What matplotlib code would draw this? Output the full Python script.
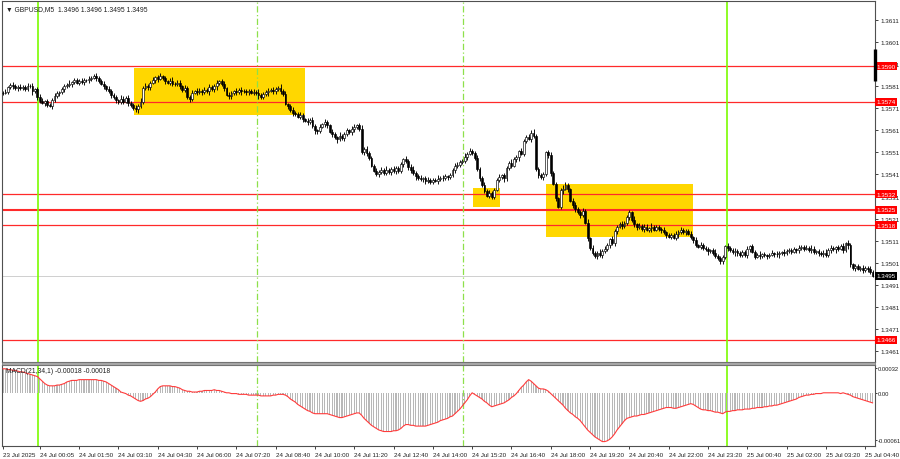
import numpy as np
import matplotlib
matplotlib.use('Agg')
import matplotlib.pyplot as plt
from matplotlib.patches import Rectangle
from matplotlib.transforms import blended_transform_factory

plt.rcParams['font.family'] = ['Liberation Sans', 'DejaVu Sans']

BASE = 1.34
PIP = 0.0001

# 5-minute closes, in pips above 1.3400
closes_pips = [
    178.0, 178.5, 180.5, 181.5, 181.0, 180.2, 180.8, 180.0, 180.6, 179.8, 180.9, 181.3, 178.6, 179.5, 176.0,
    174.5, 173.6, 174.2, 172.4, 172.0, 174.8, 176.5, 177.8, 178.2,
    179.5, 181.0, 181.5, 182.2, 182.8, 183.6, 182.6, 183.4, 182.9, 183.8, 183.6, 184.2, 184.8, 185.5, 184.6,
    183.4, 182.2, 181.0, 179.8, 178.6, 177.0, 176.0, 174.8, 173.9, 175.4, 174.0, 175.8, 173.2, 172.6, 171.2,
    170.6, 171.8, 174.0, 180.2,
    181.2, 180.4, 182.6, 183.8, 185.0, 184.4, 185.4, 184.6,
    183.2, 182.6, 183.5, 182.0, 181.8, 182.6, 181.0, 179.4, 180.2, 176.0, 175.4,
    178.0, 178.6, 178.2, 179.0, 178.4, 179.2, 178.6, 180.4,
    179.6, 181.2, 182.6, 183.4, 181.8, 180.0, 177.2, 176.4, 177.8, 178.6,
    178.4, 179.2, 178.6, 178.9, 178.2, 178.7, 178.0, 178.5, 177.9, 176.8, 176.2, 177.6, 178.2,
    178.8, 179.4, 178.6, 179.6, 180.2, 178.8, 177.6, 173.0, 171.8,
    170.2, 169.0, 168.4, 167.2, 167.8, 166.0, 165.4, 164.8, 165.6, 163.0, 161.0, 160.6, 162.6, 163.8, 164.6,
    163.2, 160.4, 159.2, 158.0, 157.0, 158.6, 157.4, 159.2, 161.0, 160.2, 161.8, 162.4, 163.2, 161.8, 151.0,
    152.6, 150.8, 148.4, 145.0, 142.6, 141.4, 142.0,
    143.2, 141.8, 143.0, 142.2, 143.6, 142.4, 143.8, 142.6, 145.6, 147.8,
    147.0, 144.4, 142.8, 141.6, 140.2, 139.6, 138.8, 139.4, 138.0, 138.6, 137.8, 138.4, 138.2,
    139.0, 139.6, 139.2, 140.2, 139.8, 140.6, 143.2, 144.6, 145.4, 146.6, 147.2, 149.0, 150.4, 151.6, 150.8,
    148.6, 143.4, 139.6, 136.4, 133.6, 131.2, 132.4, 131.0,
    134.0, 138.6, 139.8, 140.6, 139.2, 143.8, 146.2, 145.0, 147.8, 148.8, 151.6, 150.4, 156.2,
    158.0, 157.2, 160.0, 158.4, 143.6,
    140.6, 139.8, 141.2, 151.0, 149.6, 141.8, 136.6, 130.2, 126.4, 133.8, 134.6, 136.4, 134.2,
    129.0, 127.0, 125.4, 123.8, 122.6, 124.6, 119.0, 112.0,
    107.6, 105.2, 104.0, 105.6, 104.4, 106.4, 107.2, 108.8, 111.6, 110.0,
    115.2, 117.4, 118.4, 117.6, 119.2, 121.6, 123.8, 120.4,
    118.4, 117.0, 117.8, 116.2, 117.4, 115.8, 116.6, 117.4, 116.0, 117.0, 116.4, 115.6, 114.8, 113.4, 112.6,
    113.6, 112.4, 113.8, 115.0, 116.0, 114.8, 115.4, 114.2,
    112.6, 111.4, 108.8, 108.2, 109.0, 107.6, 107.0, 106.2, 106.8, 105.4, 104.2, 103.0, 101.6, 103.4, 108.4, 107.6,
    106.6, 105.8, 106.4, 105.2, 104.6, 105.8, 104.4, 107.2, 108.4, 106.0, 103.8, 104.6,
    104.2, 104.8, 104.4, 104.0, 104.6, 105.2, 104.8, 105.0, 105.4,
    105.8, 105.4, 106.2, 106.8, 106.0, 107.0, 106.6, 107.6, 108.0, 107.4, 107.8,
    106.8, 107.4, 105.8, 106.2, 105.4, 104.8, 105.6, 104.6, 106.8, 107.6, 107.2,
    108.0, 107.4, 108.6, 106.6, 110.0, 108.8, 100.2,
    98.6, 99.4, 98.2, 98.8, 97.8, 98.6, 98.0, 97.0, 95.0,
]

# wick lengths beyond the body, in 0.2 pip steps
wick_up = [
    4, 6, 3, 5, 8, 4, 3, 6, 5, 4, 7, 3, 5, 4, 6, 8, 5, 3, 6, 4,
    5, 7, 4, 3, 6, 5, 4, 8, 3, 5, 6, 4, 7, 5, 3, 6, 4, 5, 8, 6,
    4, 5, 3, 7, 6, 4, 5, 3, 8, 6, 4, 7, 5, 3, 6, 5, 9, 4, 6, 5,
    3, 6, 4, 5, 7, 4, 6, 3, 5, 8, 4, 5, 6, 3, 7, 4, 5, 6, 4, 8,
    5, 3, 6, 4, 7, 5, 4, 6, 3, 5, 8, 4, 6, 5, 3, 7, 4, 6, 5, 4,
    6, 4, 5, 3, 8, 6, 4, 5, 7, 3, 6, 4, 5, 8, 4, 6, 3, 5, 7, 4,
    4, 7, 5, 3, 6, 4, 8, 5, 4, 6, 3, 7, 5, 4, 6, 5, 3, 8, 4, 6,
    5, 4, 6, 8, 3, 5, 7, 4, 6, 5, 4, 3, 7, 5, 6, 4, 8, 5, 3, 6,
    4, 6, 5, 3, 7, 4, 6, 9, 5, 4, 6, 3, 5, 7, 4, 6, 5, 8, 4, 5,
    6, 3, 5, 4, 7, 6, 4, 5, 8, 3, 6, 5, 4, 7, 5, 3, 6, 4, 8, 5,
    4, 5, 7, 3, 6, 4, 5, 8, 6, 4, 3, 7, 5, 4, 6, 5, 9, 4, 3, 6,
    5, 4, 6, 7, 3, 5, 4, 6, 8, 5, 4, 3, 6, 7, 4, 5, 6, 4, 8, 3,
    6, 5, 4, 7, 3, 6, 5, 4, 8, 6, 3, 5, 7, 4, 6, 5, 3, 8, 4, 6,
    4, 6, 5, 3, 7, 4, 6, 5, 4, 8, 3, 6, 5, 4, 7, 5, 6, 3, 4, 5,
    5, 3, 6, 4, 7, 5, 4, 6, 3, 5, 8, 4, 6, 5, 3, 7, 4, 5, 6, 4,
    6, 4, 5, 7, 3, 6, 4, 5, 8, 4, 6, 3, 5, 7, 4, 6, 5, 3, 6, 4,
    4, 5, 6, 3, 7, 4, 5, 6, 4, 8, 5, 3, 6, 4, 5, 7, 4, 6, 5, 3,
    5, 4, 6, 3, 7, 5, 4, 6, 5, 3, 6, 4, 5, 7, 4,
]
wick_dn = [
    5, 3, 6, 4, 7, 5, 8, 3, 4, 6, 5, 4, 7, 3, 6, 5, 4, 8, 5, 3,
    6, 4, 5, 7, 3, 6, 4, 5, 8, 4, 3, 6, 5, 7, 4, 6, 5, 3, 6, 4,
    4, 7, 5, 3, 6, 4, 8, 5, 4, 6, 3, 7, 5, 4, 6, 9, 3, 5, 4, 6,
    5, 4, 6, 8, 3, 5, 7, 4, 6, 5, 4, 3, 7, 5, 6, 4, 8, 5, 3, 6,
    4, 6, 5, 3, 7, 4, 6, 9, 5, 4, 6, 3, 5, 7, 4, 6, 5, 8, 4, 5,
    6, 3, 5, 4, 7, 6, 4, 5, 8, 3, 6, 5, 4, 7, 5, 3, 6, 4, 8, 5,
    4, 5, 7, 3, 6, 4, 5, 8, 6, 4, 3, 7, 5, 4, 6, 5, 9, 4, 3, 6,
    5, 4, 6, 7, 3, 5, 4, 6, 8, 5, 4, 3, 6, 7, 4, 5, 6, 4, 8, 3,
    6, 5, 4, 7, 3, 6, 5, 4, 8, 6, 3, 5, 7, 4, 6, 5, 3, 8, 4, 6,
    4, 6, 5, 3, 7, 4, 6, 5, 4, 8, 3, 6, 5, 4, 7, 5, 6, 3, 4, 5,
    5, 3, 6, 4, 7, 5, 4, 6, 3, 5, 8, 4, 6, 5, 3, 7, 4, 5, 6, 4,
    6, 4, 5, 7, 3, 6, 4, 5, 8, 4, 6, 3, 5, 7, 4, 6, 5, 3, 6, 4,
    4, 5, 6, 3, 7, 4, 5, 6, 4, 8, 5, 3, 6, 4, 5, 7, 4, 6, 5, 3,
    4, 6, 3, 5, 8, 4, 3, 6, 5, 4, 7, 3, 5, 4, 6, 8, 5, 3, 6, 4,
    5, 7, 4, 3, 6, 5, 4, 8, 3, 5, 6, 4, 7, 5, 3, 6, 4, 5, 8, 6,
    4, 5, 3, 7, 6, 4, 5, 3, 8, 6, 4, 7, 5, 3, 6, 5, 9, 4, 6, 5,
    3, 6, 4, 5, 7, 4, 6, 3, 5, 8, 4, 5, 6, 3, 7, 4, 5, 6, 4, 8,
    5, 3, 6, 4, 7, 5, 4, 6, 3, 5, 8, 4, 6, 5, 3,
]

# MACD(21,34,1) main value per bar, in 1e-5
macd_e5 = [
    31, 31, 30, 30, 29, 29, 28, 27, 27, 26, 25, 24, 23, 22, 21,
    18, 15, 12, 10, 9, 9, 9, 10, 10, 11, 12, 14, 15, 16,
    16, 16, 17, 17, 17, 17, 17, 17, 17, 17, 16, 16, 15, 14,
    12, 10, 8, 6, 4, 1, 0, -1, -3, -4, -6, -8, -10, -11,
    -10, -8, -7, -5, -2, 1, 5, 8, 9, 9, 9, 9, 8, 8,
    7, 6, 4, 3, 2, 2, 1, 1, 1, 2, 2, 3, 3, 3, 3, 4, 3, 3,
    2, 1, 0, 0, -1, -1, -1, -2, -2, -2, -2, -3, -3, -3, -3,
    -3, -4, -4, -4, -4, -4, -3, -3, -2, -2, -2, -3, -5, -8,
    -10, -12, -15, -17, -19, -21, -23, -24, -26, -27,
    -27, -27, -27, -27, -27, -28, -29, -30, -31, -32, -32,
    -31, -30, -29, -28, -27, -26, -26,
    -29, -33, -36, -39, -42, -44, -46, -48, -49, -50, -50,
    -50, -50, -49, -49, -48, -46, -43, -41,
    -41, -42, -42, -43, -43, -43, -43, -43, -42, -41, -40, -39, -38, -36,
    -35, -34, -33, -31, -30, -27, -24, -21, -17, -13, -9, -4, 0,
    -2, -4, -6, -8, -11, -13, -16, -18, -17, -16, -15, -14,
    -13, -11, -9, -6, -4, -1, 3, 7, 10, 14, 17,
    15, 12, 9, 6, 5, 5, 4, 2, -1, -4,
    -7, -10, -13, -16, -20, -23, -26, -28, -31, -33,
    -36, -40, -44, -48, -51, -54, -57, -59, -61, -63,
    -63, -62, -60, -57, -53, -48, -44, -40, -36, -33,
    -32, -31, -30, -30, -29, -28, -28, -27,
    -26, -25, -24, -23, -22, -21, -20, -19, -19, -19, -20, -20,
    -19, -18, -17, -16, -15, -14, -15, -17, -19, -21, -22,
    -22, -23, -23, -24, -25, -25, -26, -27,
    -25, -24, -24, -23, -23, -22, -22,
    -22, -21, -21, -21, -20, -20, -19, -19,
    -19, -18, -18, -17, -17, -16, -16, -15,
    -14, -13, -12, -11, -10, -9, -8, -6,
    -5, -4, -3, -3, -2, -2, -1,
    -1, -1, 0, 0, 0, 0, 0, 0, 0, -1, 0, -1,
    -2, -3, -5, -6, -7, -8, -9, -10, -11, -12, -13,
]

time_labels = ['23 Jul 2025', '24 Jul 00:05', '24 Jul 01:50', '24 Jul 03:10', '24 Jul 04:30',
               '24 Jul 06:00', '24 Jul 07:20', '24 Jul 08:40', '24 Jul 10:00', '24 Jul 11:20',
               '24 Jul 12:40', '24 Jul 14:00', '24 Jul 15:20', '24 Jul 16:40', '24 Jul 18:00',
               '24 Jul 19:20', '24 Jul 20:40', '24 Jul 22:00', '24 Jul 23:20', '25 Jul 00:40',
               '25 Jul 02:00', '25 Jul 03:20', '25 Jul 04:40']
label_bars = [0] + [15 + 16 * k for k in range(len(time_labels) - 1)]

levels = [1.3590, 1.3574, 1.3532, 1.3525, 1.3518, 1.3466]
last_price = 1.3495

# (first bar, last bar, low price, high price)
zones = [(53.3, 123.0, 1.35680, 1.35893),
         (191.3, 202.4, 1.35264, 1.35347),
         (221.1, 281.0, 1.35127, 1.35367)]

day_marks = [14.3, 294.8]
session_marks = [103.4, 187.3]

# ---- build OHLC
c = BASE + np.array(closes_pips) * PIP
o = np.r_[c[0], c[:-1]]
hi = np.maximum(o, c) + np.array(wick_up) * 0.2 * PIP
lo = np.minimum(o, c) - np.array(wick_dn) * 0.2 * PIP
x = np.arange(len(c))

fig = plt.figure(figsize=(9, 4.6), dpi=100)
W, H = 900.0, 460.0
ax = fig.add_axes([2 / W, 97 / H, 873 / W, 361 / H])
axm = fig.add_axes([2 / W, 13 / H, 873 / W, 81 / H], sharex=ax)

fs = 4.5
txt = '#202020'
frame = '#505050'

for x0, x1, p0, p1 in zones:
    ax.add_patch(Rectangle((x0, p0), x1 - x0, p1 - p0, facecolor='#FFD700',
                           edgecolor='none', zorder=1))

for lvl in levels:
    ax.axhline(lvl, color='#FF2A2A', lw=1.5 if lvl == 1.3525 else 0.9, zorder=2)
ax.axhline(last_price, color='#C8C8C8', lw=0.6, zorder=2)

for a in (ax, axm):
    for m in day_marks:
        a.axvline(m, color='#7CFC00', lw=1.2, zorder=2)
    for m in session_marks:
        a.axvline(m, color='#8EE04A', lw=0.9, dashes=(5, 2, 1, 2), zorder=2)

# candles
ax.vlines(x, lo, hi, color='black', lw=0.65, zorder=3)
body = np.maximum(np.abs(c - o), 0.08 * PIP)
face = np.where(c > o, 'white', 'black')
ax.bar(x, body, bottom=np.minimum(o, c), width=0.75, color=face,
       edgecolor='black', lw=0.45, zorder=4)

ax.set_xlim(-0.4, 355.0)
ax.set_ylim(1.34560, 1.36196)

yt = np.round(1.3461 + 0.001 * np.arange(16), 4)
ax.yaxis.tick_right()
ax.set_yticks(yt)
ax.set_yticklabels([f'{v:.4f}' for v in yt])
ax.tick_params(axis='y', labelsize=fs, length=2.5, width=0.6, pad=1.5, colors=txt)
ax.tick_params(axis='x', bottom=False, labelbottom=False)

tr = blended_transform_factory(ax.transAxes, ax.transData)
for lvl in levels:
    ax.text(1.0015, lvl, f'{lvl:.4f}', transform=tr, fontsize=fs, color='white',
            ha='left', va='center', clip_on=False, zorder=10,
            bbox=dict(boxstyle='square,pad=0.25', fc='#FF0000', ec='none'))
ax.text(1.0015, last_price, f'{last_price:.4f}', transform=tr, fontsize=fs, color='white',
        ha='left', va='center', clip_on=False, zorder=10,
        bbox=dict(boxstyle='square,pad=0.25', fc='black', ec='none'))
ax.plot([1.0, 1.0], [1.35834, 1.35979], transform=tr, color='black', lw=2.4,
        solid_capstyle='butt', clip_on=False, zorder=11)

ax.text(4 / 873, 1 - 8 / 361, '\u25bc GBPUSD,M5  1.3496 1.3496 1.3495 1.3495',
        transform=ax.transAxes, fontsize=fs + 0.4, va='center', ha='left', color=txt)

# ---- MACD panel
macd = np.array(macd_e5) * 1e-5
xm = np.arange(len(macd))
axm.bar(xm, macd, width=0.45, color='#B8B8B8', zorder=2)
axm.plot(xm, macd, color='#FF3B3B', lw=0.8, zorder=3)
axm.set_ylim(-0.000687, 0.000359)
axm.yaxis.tick_right()
axm.set_yticks([0.00032, 0.0, -0.00061])
axm.set_yticklabels(['0.00032', '0.00', '-0.00061'])
axm.tick_params(axis='y', labelsize=fs - 0.3, length=1.5, width=0.6, pad=0.6, colors=txt)
axm.set_xticks(label_bars)
axm.set_xticklabels(time_labels)
axm.tick_params(axis='x', labelsize=fs, length=2.5, width=0.6, pad=1.5, colors=txt)
for t in axm.get_xticklabels():
    t.set_ha('left')
axm.text(4 / 873, 1 - 6 / 81, 'MACD(21,34,1) -0.00018 -0.00018', transform=axm.transAxes,
         fontsize=fs + 0.4, va='center', ha='left', color=txt, zorder=5)

for a in (ax, axm):
    for s in a.spines.values():
        s.set_color(frame)
        s.set_linewidth(0.8)

# grey splitter between the panels
fig.add_artist(Rectangle((2 / W, 94 / H), 873 / W, 3 / H, transform=fig.transFigure,
                         facecolor='#A6A6A6', edgecolor='#707070', lw=0.5))

fig.savefig('out.png', dpi=100)
